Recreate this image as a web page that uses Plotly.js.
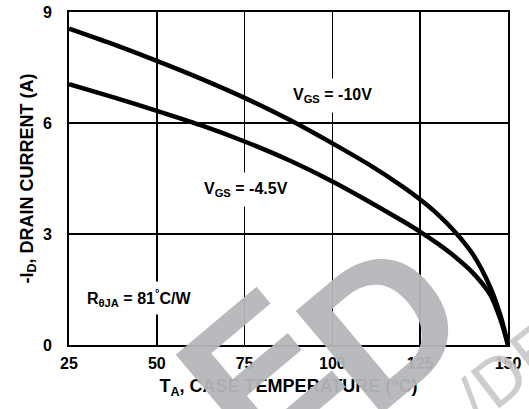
<!DOCTYPE html>
<html>
<head>
<meta charset="utf-8">
<script src="https://cdn.plot.ly/plotly-3.0.1.min.js"></script>
<style>html,body{margin:0;padding:0;background:#fff;}#chart{width:529px;height:409px;}</style>
</head>
<body>
<div id="chart"></div>
<script>
// Case temperature (°C)
const tempC = [25, 37.5, 50, 62.5, 75, 87.5, 100, 110, 120, 125, 130, 135, 140, 145, 148, 150];
// -ID drain current (A) for VGS = -10V
const idVgs10 = [8.55, 8.13, 7.68, 7.2, 6.68, 6.1, 5.45, 4.9, 4.28, 3.93, 3.53, 3.05, 2.45, 1.55, 0.75, 0];
// -ID drain current (A) for VGS = -4.5V
const idVgs45 = [7.05, 6.7, 6.33, 5.94, 5.5, 5.0, 4.42, 3.9, 3.35, 3.06, 2.74, 2.38, 1.95, 1.35, 0.65, 0];
const xTicks = [25, 50, 75, 100, 125, 150];
const yTicks = [0, 3, 6, 9];

const FONT = 'Liberation Sans, Arial, Helvetica, sans-serif';
const lineStyle = {color: '#000', width: 4.5, shape: 'spline', smoothing: 0.8};

const traces = [
  {x: tempC, y: idVgs10, mode: 'lines', line: lineStyle, hoverinfo: 'skip', name: 'VGS=-10V'},
  {x: tempC, y: idVgs45, mode: 'lines', line: lineStyle, hoverinfo: 'skip', name: 'VGS=-4.5V'}
];

const L = 69, R = 21, T = 12, B = 64, W = 529, H = 409;
const px2x = p => (p - L) / (W - L - R);
const px2y = p => (H - B - p) / (H - B - T);
const WM = 'rgba(180,182,185,0.95)';
const annFont = {family: FONT, size: 16, color: '#000', weight: 'bold'};

const layout = {
  width: W, height: H,
  margin: {l: L, r: R, t: T, b: B},
  paper_bgcolor: '#fff', plot_bgcolor: '#fff',
  showlegend: false,
  font: {family: FONT, size: 14, color: '#000'},
  xaxis: {
    range: [25, 150], tickvals: xTicks, ticktext: xTicks.map(String),
    showgrid: true, gridcolor: '#000', gridwidth: 1.5,
    zeroline: false, showline: true, linecolor: '#000', linewidth: 2, mirror: true,
    ticks: '', ticklabelstandoff: 3,
    tickfont: {family: FONT, size: 16, color: '#000', weight: 'bold'},
    title: {text: 'T<sub>A</sub>, CASE TEMPERATURE (°C)', font: {family: FONT, size: 18, weight: 'bold'}, standoff: 8}
  },
  yaxis: {
    range: [0, 9], tickvals: yTicks, ticktext: yTicks.map(String),
    showgrid: true, gridcolor: '#000', gridwidth: 1.5,
    zeroline: false, showline: true, linecolor: '#000', linewidth: 2, mirror: true,
    ticks: 'inside', ticklen: 9, tickwidth: 2.5, tickcolor: '#000', ticklabelstandoff: 12,
    tickfont: {family: FONT, size: 16, color: '#000', weight: 'bold'},
    title: {text: '-I<sub>D</sub>, DRAIN CURRENT (A)', font: {family: FONT, size: 18, weight: 'bold'}, standoff: 5}
  },
  annotations: [
    {x: 100.1, y: 6.74, xref: 'x', yref: 'y', showarrow: false,
     text: 'V<sub>GS</sub> = -10V', font: annFont, bgcolor: '#fff', borderpad: 7},
    {x: 75.4, y: 4.2, xref: 'x', yref: 'y', showarrow: false,
     text: 'V<sub>GS</sub> = -4.5V', font: annFont, bgcolor: '#fff', borderpad: 7},
    {x: 45.0, y: 1.26, xref: 'x', yref: 'y', showarrow: false,
     text: 'R<sub>θJA</sub> = 81<sup>°</sup>C/W', font: annFont, bgcolor: '#fff', borderpad: 5},
    // watermark letters
    {x: px2x(258), y: px2y(372), xref: 'paper', yref: 'paper', xanchor: 'center', yanchor: 'middle',
     showarrow: false, text: 'E', font: {family: FONT, size: 195, color: WM, weight: 'bold'}, textangle: -40},
    {x: px2x(382), y: px2y(325), xref: 'paper', yref: 'paper', xanchor: 'center', yanchor: 'middle',
     showarrow: false, text: 'D', font: {family: FONT, size: 195, color: WM, weight: 'bold'}, textangle: -40},
    {x: px2x(507), y: px2y(374), xref: 'paper', yref: 'paper', xanchor: 'center', yanchor: 'middle',
     showarrow: false, text: '/DE',
     font: {family: 'DejaVu Sans ExtraLight, DejaVu Sans, sans-serif', size: 64, color: 'rgba(200,200,200,0.9)'}, textangle: -38}
  ]
};

Plotly.newPlot('chart', traces, layout, {staticPlot: true, displayModeBar: false});
</script>
</body>
</html>
